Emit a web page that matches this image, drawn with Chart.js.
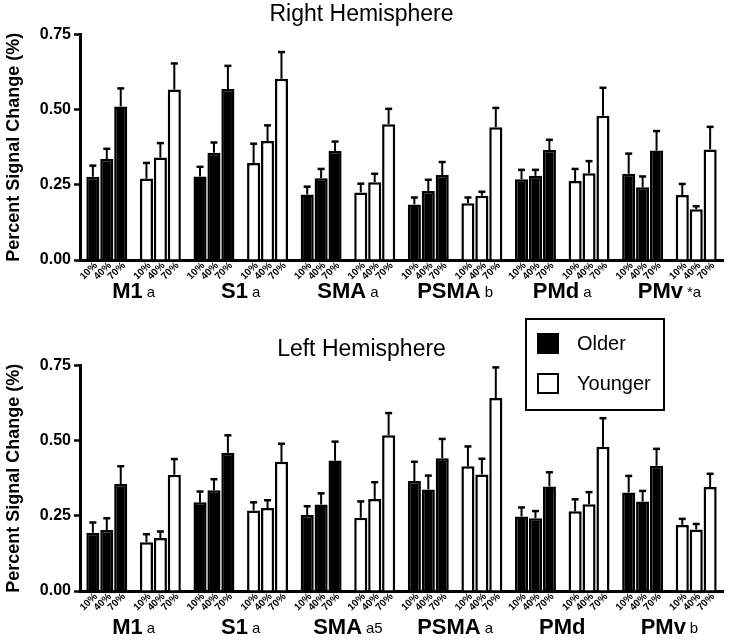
<!DOCTYPE html>
<html>
<head>
<meta charset="utf-8">
<script src="https://cdn.jsdelivr.net/npm/chart.js@4.4.0/dist/chart.umd.min.js"></script>
<style>
    body { margin: 0; background: #fff; }
    canvas { display: block; }
</style>
</head>
<body>
<canvas id="chartRight" width="729" height="312"></canvas>
<canvas id="chartLeft" width="729" height="332"></canvas>
<script>
var regions = ["M1", "S1", "SMA", "PSMA", "PMd", "PMv"];
var levels = ["10%", "40%", "70%"];
var rightNotes = ["a", "a", "a", "b", "a", "*a"];
var leftNotes = ["a", "a", "a5", "a", "", "b"];

// Right hemisphere, mean and SEM per region at 10%, 40%, 70%
var rightOlderMean = [[0.277, 0.336, 0.511], [0.278, 0.357, 0.569], [0.218, 0.272, 0.363], [0.185, 0.230, 0.283], [0.269, 0.280, 0.366], [0.287, 0.242, 0.364]];
var rightOlderErr = [[0.037, 0.034, 0.060], [0.032, 0.034, 0.077], [0.026, 0.031, 0.031], [0.023, 0.037, 0.043], [0.031, 0.020, 0.034], [0.067, 0.036, 0.065]];
var rightYoungerMean = [[0.271, 0.341, 0.567], [0.323, 0.396, 0.603], [0.225, 0.259, 0.452], [0.189, 0.214, 0.442], [0.263, 0.289, 0.480], [0.216, 0.169, 0.368]];
var rightYoungerErr = [[0.052, 0.048, 0.087], [0.064, 0.052, 0.089], [0.029, 0.028, 0.051], [0.019, 0.013, 0.064], [0.040, 0.040, 0.093], [0.037, 0.010, 0.075]];

// Left hemisphere
var leftOlderMean = [[0.194, 0.203, 0.356], [0.295, 0.335, 0.460], [0.253, 0.288, 0.434], [0.366, 0.338, 0.442], [0.248, 0.242, 0.348], [0.328, 0.298, 0.417]];
var leftOlderErr = [[0.034, 0.039, 0.059], [0.036, 0.037, 0.058], [0.029, 0.037, 0.063], [0.064, 0.046, 0.064], [0.030, 0.024, 0.047], [0.055, 0.035, 0.056]];
var leftYoungerMean = [[0.162, 0.176, 0.387], [0.268, 0.276, 0.430], [0.244, 0.306, 0.518], [0.415, 0.388, 0.642], [0.265, 0.289, 0.480], [0.220, 0.205, 0.346]];
var leftYoungerErr = [[0.027, 0.022, 0.052], [0.027, 0.026, 0.060], [0.054, 0.056, 0.074], [0.066, 0.052, 0.102], [0.040, 0.040, 0.095], [0.020, 0.018, 0.044]];

var yTicks = [0, 0.25, 0.5, 0.75];
var legendLabels = ["Older", "Younger"];

var FONT = "'Liberation Sans', Arial, Helvetica, sans-serif";

function buildDatasets(olderMean, olderErr, youngerMean, youngerErr) {
    var sets = [];
    for (var k = 0; k < levels.length; k++) {
        var data = [], errs = [], colors = [];
        for (var r = 0; r < regions.length; r++) {
            data.push(olderMean[r][k], youngerMean[r][k]);
            errs.push(olderErr[r][k], youngerErr[r][k]);
            colors.push("#000", "#fff");
        }
        sets.push({
            label: levels[k],
            data: data,
            errors: errs,
            backgroundColor: colors,
            borderColor: "#000",
            borderWidth: 2.5,
            categoryPercentage: 0.78,
            barPercentage: 0.94
        });
    }
    return sets;
}

var decorPlugin = {
    id: "decor",
    afterDatasetsDraw: function(chart) {
        var ctx = chart.ctx;
        var yScale = chart.scales.y;
        ctx.save();
        ctx.strokeStyle = "#000";
        chart.data.datasets.forEach(function(ds, k) {
            var meta = chart.getDatasetMeta(k);
            meta.data.forEach(function(el, i) {
                var top = yScale.getPixelForValue(ds.data[i] + ds.errors[i]);
                ctx.lineWidth = 2;
                ctx.beginPath();
                ctx.moveTo(el.x, el.y);
                ctx.lineTo(el.x, top);
                ctx.stroke();
                ctx.lineWidth = 2.5;
                ctx.beginPath();
                ctx.moveTo(el.x - 3.5, top);
                ctx.lineTo(el.x + 3.5, top);
                ctx.stroke();
            });
        });
        ctx.restore();
    },
    afterDraw: function(chart, args, opts) {
        var ctx = chart.ctx;
        var area = chart.chartArea;
        var xScale = chart.scales.x;
        ctx.save();
        ctx.fillStyle = "#000";
        // rotated level labels under each bar
        ctx.font = "bold 10px " + FONT;
        ctx.textAlign = "right";
        ctx.textBaseline = "middle";
        chart.data.datasets.forEach(function(ds, k) {
            chart.getDatasetMeta(k).data.forEach(function(el) {
                ctx.save();
                ctx.translate(el.x + 3, area.bottom + 4);
                ctx.rotate(-Math.PI / 4);
                ctx.fillText(ds.label, 0, 0);
                ctx.restore();
            });
        });
        // region labels with notes
        ctx.textAlign = "left";
        ctx.textBaseline = "alphabetic";
        for (var r = 0; r < regions.length; r++) {
            var center = (xScale.getPixelForValue(2 * r) + xScale.getPixelForValue(2 * r + 1)) / 2;
            ctx.font = "bold 22px " + FONT;
            var mainW = ctx.measureText(regions[r]).width;
            ctx.font = "15px " + FONT;
            var noteW = opts.notes[r] ? ctx.measureText(opts.notes[r]).width + 4 : 0;
            var x0 = center - (mainW + noteW) / 2;
            ctx.font = "bold 22px " + FONT;
            ctx.fillText(regions[r], x0, opts.labelY);
            if (opts.notes[r]) {
                ctx.font = "15px " + FONT;
                ctx.fillText(opts.notes[r], x0 + mainW + 4, opts.labelY - 1);
            }
        }
        // legend box
        if (opts.legend) {
            var lg = opts.legend;
            ctx.lineWidth = 2;
            ctx.strokeStyle = "#000";
            ctx.fillStyle = "#fff";
            ctx.fillRect(lg.x, lg.y, lg.w, lg.h);
            ctx.strokeRect(lg.x, lg.y, lg.w, lg.h);
            ctx.font = "20px " + FONT;
            ctx.textBaseline = "middle";
            for (var j = 0; j < legendLabels.length; j++) {
                var sy = lg.y + 15 + j * 40;
                ctx.fillStyle = j === 0 ? "#000" : "#fff";
                ctx.fillRect(lg.x + 12, sy, 20, 19);
                ctx.strokeRect(lg.x + 12, sy, 20, 19);
                ctx.fillStyle = "#000";
                ctx.fillText(legendLabels[j], lg.x + 51, sy + 10);
            }
        }
        ctx.restore();
    }
};

function makeChart(id, title, titlePad, xHeight, datasets, notes, labelY, legend) {
    var labels = [];
    regions.forEach(function(r) { labels.push(r + " Older", r + " Younger"); });
    return new Chart(document.getElementById(id), {
        type: "bar",
        data: { labels: labels, datasets: datasets },
        plugins: [decorPlugin],
        options: {
            responsive: false,
            animation: false,
            layout: { padding: { left: 0, right: 6, top: 0, bottom: 0 } },
            plugins: {
                legend: { display: false },
                tooltip: { enabled: false },
                title: {
                    display: true,
                    text: title,
                    color: "#000",
                    font: { family: FONT, size: 23, weight: "normal", lineHeight: 1.2 },
                    padding: titlePad
                },
                decor: { notes: notes, labelY: labelY, legend: legend }
            },
            scales: {
                x: {
                    grid: { display: false },
                    ticks: { display: false },
                    border: { display: true, color: "#000", width: 3 },
                    afterFit: function(s) { s.height = xHeight; }
                },
                y: {
                    min: 0,
                    max: 0.75,
                    afterBuildTicks: function(s) { s.ticks = yTicks.map(function(v) { return { value: v }; }); },
                    ticks: {
                        color: "#000",
                        padding: 3,
                        font: { family: FONT, size: 16, weight: "bold" },
                        callback: function(v) { return Number(v).toFixed(2); }
                    },
                    grid: { display: true, drawOnChartArea: false, drawTicks: true, tickLength: 6, tickWidth: 2.5, color: "#000" },
                    border: { display: true, color: "#000", width: 3 },
                    title: {
                        display: true,
                        text: "Percent Signal Change (%)",
                        color: "#000",
                        font: { family: FONT, size: 18, weight: "bold" },
                        padding: { top: 3, bottom: 0 }
                    },
                    afterFit: function(s) { s.width = 80; }
                }
            }
        }
    });
}

makeChart("chartRight", "Right Hemisphere", { top: 1, bottom: 6 }, 52,
    buildDatasets(rightOlderMean, rightOlderErr, rightYoungerMean, rightYoungerErr),
    rightNotes, 298, null);

makeChart("chartLeft", "Left Hemisphere", { top: 24, bottom: 2 }, 53,
    buildDatasets(leftOlderMean, leftOlderErr, leftYoungerMean, leftYoungerErr),
    leftNotes, 322, { x: 526, y: 7, w: 138, h: 91 });
</script>
</body>
</html>
